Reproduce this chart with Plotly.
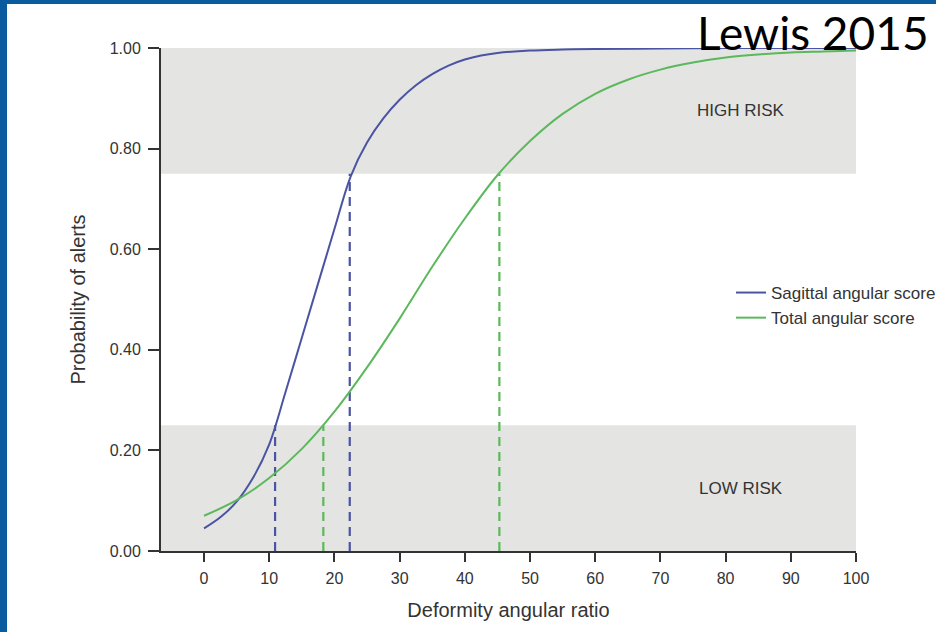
import plotly.graph_objects as go

# Data
sag_x = [0, 2.5, 5, 7.5, 10, 12.5, 15, 17.5, 20, 22.5, 25, 27.5, 30, 32.5, 35, 37.5, 40, 42.5, 45, 50, 55, 60, 70, 80, 90, 100]
sag_y = [0.045, 0.067, 0.098, 0.145, 0.212, 0.316, 0.424, 0.532, 0.640, 0.745, 0.812, 0.860, 0.897, 0.926, 0.948, 0.965, 0.977, 0.985, 0.990, 0.995, 0.997, 0.998, 0.999, 1.0, 1.0, 1.0]

tot_x = [0, 5, 10, 15, 20, 25, 30, 35, 40, 45, 50, 55, 60, 65, 70, 75, 80, 85, 90, 95, 100]
tot_y = [0.070, 0.101, 0.145, 0.203, 0.277, 0.365, 0.462, 0.565, 0.661, 0.747, 0.815, 0.869, 0.909, 0.937, 0.957, 0.971, 0.981, 0.987, 0.991, 0.993, 0.995]

sag_cut_x = [10.9, 22.35]
sag_cut_y = [0.25, 0.75]
tot_cut_x = [18.3, 45.3]
tot_cut_y = [0.25, 0.75]

x_ticks = [0, 10, 20, 30, 40, 50, 60, 70, 80, 90, 100]
y_ticks = [0.0, 0.2, 0.4, 0.6, 0.8, 1.0]
y_ticklabels = ["0.00", "0.20", "0.40", "0.60", "0.80", "1.00"]

zones = [("HIGH RISK", 0.75, 1.0), ("LOW RISK", 0.0, 0.25)]

BLUE = "#4a54a3"
GREEN = "#5cb85c"
BAND = "#e4e4e2"
TXT = "#333333"
FONT = "Liberation Sans, Arial, sans-serif"

X0, X1 = -6.6, 100

fig = go.Figure()

for name, y0, y1 in zones:
    fig.add_shape(type="rect", xref="x", yref="y", x0=X0, x1=X1, y0=y0, y1=y1,
                  fillcolor=BAND, line=dict(width=0), layer="below")
    fig.add_annotation(x=82.4, y=(y0 + y1) / 2, xref="x", yref="y", text=name,
                       showarrow=False, font=dict(size=17, color=TXT, family=FONT))

for cx, cy in zip(sag_cut_x, sag_cut_y):
    fig.add_trace(go.Scatter(x=[cx, cx], y=[0, cy], mode="lines", showlegend=False,
                             line=dict(color=BLUE, width=2.2, dash="9px,6px"), hoverinfo="skip"))
for cx, cy in zip(tot_cut_x, tot_cut_y):
    fig.add_trace(go.Scatter(x=[cx, cx], y=[0, cy], mode="lines", showlegend=False,
                             line=dict(color=GREEN, width=2.2, dash="9px,6px"), hoverinfo="skip"))

fig.add_trace(go.Scatter(x=sag_x, y=sag_y, mode="lines", name="Sagittal angular score",
                         line=dict(color=BLUE, width=2, shape="spline", smoothing=1.0)))
fig.add_trace(go.Scatter(x=tot_x, y=tot_y, mode="lines", name="Total angular score",
                         line=dict(color=GREEN, width=2, shape="spline", smoothing=1.0)))

# frame (blue border of slide)
L, R, T, B = 161, 80, 48, 81
W, H = 936, 632
pw, ph = W - L - R, H - T - B
def px(xp): return (xp - L) / pw
def py(yp): return (H - B - yp) / ph
fig.add_shape(type="rect", xref="paper", yref="paper", x0=px(0), x1=px(7), y0=py(0), y1=py(W),
              fillcolor="#0b5c9e", line=dict(width=0), layer="above")
fig.add_shape(type="rect", xref="paper", yref="paper", x0=px(0), x1=px(W), y0=py(0), y1=py(4),
              fillcolor="#0b5c9e", line=dict(width=0), layer="above")

fig.add_annotation(xref="paper", yref="paper", x=px(931), y=py(3), xanchor="right", yanchor="top",
                   text="Lewis 2015", showarrow=False,
                   font=dict(size=46, color="#000000", family="Lato, Open Sans, sans-serif"))

fig.update_layout(
    width=W, height=H,
    margin=dict(l=L, r=R, t=T, b=B, autoexpand=False),
    paper_bgcolor="white", plot_bgcolor="white",
    font=dict(family=FONT, color=TXT, size=16),
    legend=dict(x=px(731), y=py(275), xanchor="left", yanchor="top",
                bgcolor="rgba(0,0,0,0)", font=dict(size=17, color=TXT, family=FONT),
                itemwidth=30, tracegroupgap=0),
    xaxis=dict(range=[X0, X1], tickvals=x_ticks, showgrid=False, zeroline=False,
               showline=True, linecolor="#333333", linewidth=2,
               ticks="outside", ticklen=9, tickwidth=2, tickcolor="#333333",
               ticklabelstandoff=3,
               tickfont=dict(size=16, color=TXT), title=dict(text="Deformity angular ratio",
               font=dict(size=20, color=TXT), standoff=17)),
    yaxis=dict(range=[0, 1], tickvals=y_ticks, ticktext=y_ticklabels, showgrid=False,
               zeroline=False, showline=True, linecolor="#333333", linewidth=2,
               ticks="outside", ticklen=11, tickwidth=2, tickcolor="#333333",
               ticklabelstandoff=4,
               tickfont=dict(size=16, color=TXT), title=dict(text="Probability of alerts",
               font=dict(size=20, color=TXT), standoff=19)),
)

fig.write_html("out.html", config={"displayModeBar": False},
               post_script="document.body.style.margin='0px';")
